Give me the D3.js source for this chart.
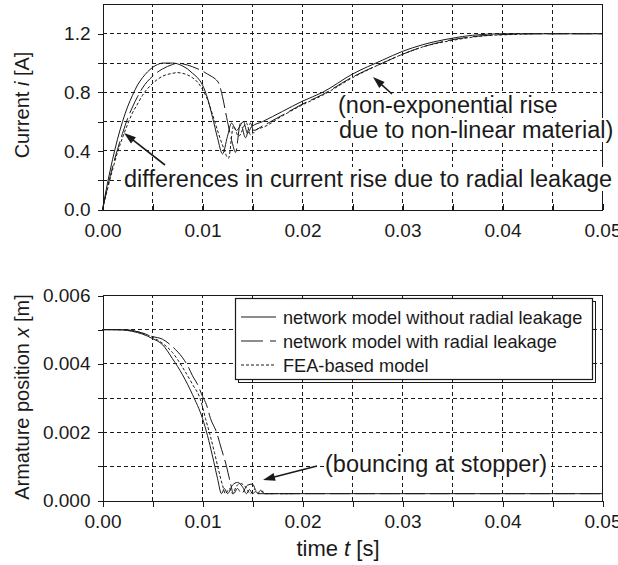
<!DOCTYPE html>
<html><head><meta charset="utf-8">
<script src="https://cdn.jsdelivr.net/npm/d3@7"></script>
<style>
body{margin:0;background:#fff}
svg{display:block}
text{font-family:"Liberation Sans",Arial,sans-serif;fill:#1a1a1a}
</style>
</head><body>
<svg id="c" width="618" height="565"></svg>
<script>
// ---------- data ----------
const timeMajorTicks = [0, 0.01, 0.02, 0.03, 0.04, 0.05];
const timeTickLabels = ["0.00", "0.01", "0.02", "0.03", "0.04", "0.05"];
const timeGrid = [0.005, 0.01, 0.015, 0.02, 0.025, 0.03, 0.035, 0.04, 0.045];
const currentTicks = [0, 0.2, 0.4, 0.6, 0.8, 1.0, 1.2];
const currentTickLabels = ["0.0", "", "0.4", "", "0.8", "", "1.2"];
const positionTicks = [0, 0.001, 0.002, 0.003, 0.004, 0.005, 0.006];
const positionTickLabels = ["0.000", "", "0.002", "", "0.004", "", "0.006"];
const seriesNames = ["network model without radial leakage", "network model with radial leakage", "FEA-based model"];

// current, network model without radial leakage
const tCurNoLeak = [0,0.0005,0.001,0.0015,0.002,0.0025,0.003,0.0035,0.004,0.0045,0.005,0.0055,0.006,0.0065,0.007,0.0075,0.008,0.0085,0.009,0.0095,0.01,0.0105,0.011,0.0115,0.012,0.0125,0.0129,0.0134,0.0141,0.0145,0.0149,0.016,0.018,0.02,0.022,0.025,0.028,0.03,0.032,0.035,0.037,0.04,0.045,0.05];
const iCurNoLeak = [0,0.18,0.34,0.48,0.6,0.7,0.78,0.85,0.9,0.94,0.97,0.99,1.0,1.0,1.0,0.995,0.98,0.96,0.93,0.9,0.85,0.76,0.63,0.49,0.38,0.5,0.59,0.54,0.6,0.52,0.565,0.6,0.67,0.74,0.8,0.925,1.02,1.08,1.125,1.17,1.19,1.2,1.2,1.2];
// current, network model with radial leakage
const tCurLeak = [0,0.0005,0.001,0.0015,0.002,0.0025,0.003,0.0035,0.004,0.005,0.006,0.007,0.0075,0.008,0.009,0.01,0.0105,0.011,0.0113,0.0117,0.012,0.0125,0.013,0.0133,0.0138,0.0143,0.0148,0.0151,0.016,0.018,0.02,0.022,0.025,0.028,0.03,0.032,0.035,0.037,0.04,0.043,0.05];
const iCurLeak = [0,0.15,0.29,0.41,0.52,0.62,0.7,0.77,0.83,0.91,0.96,0.99,1.0,0.995,0.975,0.945,0.925,0.905,0.89,0.85,0.77,0.6,0.45,0.39,0.59,0.49,0.59,0.54,0.57,0.645,0.72,0.785,0.905,1.0,1.06,1.11,1.16,1.18,1.195,1.2,1.2];
// current, FEA-based model
const tCurFEA = [0,0.0005,0.001,0.0015,0.002,0.0025,0.003,0.0035,0.004,0.005,0.006,0.007,0.0075,0.008,0.009,0.0095,0.01,0.0105,0.011,0.0115,0.012,0.0126,0.0131,0.0136,0.0144,0.0148,0.0155,0.016,0.018,0.02,0.022,0.025,0.028,0.03,0.032,0.035,0.038,0.041,0.043];
const iCurFEA = [0,0.14,0.27,0.39,0.49,0.58,0.66,0.72,0.78,0.86,0.91,0.93,0.935,0.93,0.9,0.87,0.82,0.75,0.65,0.54,0.44,0.35,0.57,0.5,0.59,0.51,0.55,0.56,0.64,0.715,0.78,0.9,1.0,1.06,1.11,1.155,1.185,1.195,1.2];

// armature position, network model without radial leakage
const tPosNoLeak = [0,0.001,0.002,0.003,0.004,0.005,0.006,0.007,0.008,0.009,0.01,0.0105,0.011,0.0115,0.0119,0.0122,0.0125,0.013,0.0135,0.014,0.0144,0.0147,0.015,0.0153,0.0156,0.02,0.05];
const xPosNoLeak = [0.005,0.005,0.00499,0.00495,0.00487,0.00474,0.00456,0.00415,0.00368,0.0031,0.0024,0.0019,0.0013,0.00065,0.0002,0.00035,0.0002,0.00045,0.00053,0.0004,0.0002,0.00032,0.0002,0.00026,0.0002,0.0002,0.0002];
// armature position, network model with radial leakage
const tPosLeak = [0,0.002,0.004,0.005,0.006,0.007,0.008,0.0086,0.009,0.0095,0.01,0.0104,0.0108,0.0114,0.0119,0.0124,0.0128,0.0131,0.0135,0.0139,0.0145,0.015,0.0155,0.0158,0.0162,0.05];
const xPosLeak = [0.005,0.005,0.0049,0.0048,0.00472,0.0045,0.00418,0.0039,0.00365,0.0034,0.00305,0.0028,0.0024,0.002,0.0015,0.001,0.0005,0.0002,0.00035,0.0002,0.00045,0.00048,0.0002,0.0003,0.0002,0.0002];
// armature position, FEA-based model
const tPosFEA = [0,0.002,0.003,0.004,0.005,0.006,0.007,0.008,0.009,0.0098,0.0103,0.0108,0.0112,0.0116,0.012,0.0123,0.0127,0.013,0.0134,0.0138,0.0143,0.0148,0.0152,0.0156,0.016,0.0163,0.019];
const xPosFEA = [0.005,0.005,0.00497,0.0049,0.00478,0.0046,0.00433,0.0039,0.0034,0.00295,0.0024,0.00187,0.0014,0.0009,0.00045,0.0002,0.00035,0.0002,0.00042,0.0005,0.0004,0.0002,0.00033,0.0002,0.00027,0.0002,0.0002];

// ---------- drawing ----------
const svg = d3.select("#c");
const INK = "#1a1a1a";
const dashStyles = [null, "20,5", "3,2"];
const zip = (a, b) => a.map((v, k) => [v, b[k]]);

function arrow(x1, y1, x2, y2) {
  const a = Math.atan2(y2 - y1, x2 - x1), L = 12, W = 4;
  const ux = Math.cos(a), uy = Math.sin(a), px = -uy, py = ux;
  svg.append("line").attr("x1", x1).attr("y1", y1)
    .attr("x2", x2 - ux * L * 0.8).attr("y2", y2 - uy * L * 0.8)
    .attr("stroke", INK).attr("stroke-width", 1.6);
  svg.append("path").attr("d",
    `M${x2},${y2}L${x2 - ux*L + px*W},${y2 - uy*L + py*W}L${x2 - ux*L - px*W},${y2 - uy*L - py*W}Z`)
    .attr("fill", INK);
}
function note(x, y, str, size) {
  const g = svg.append("g");
  const r = g.append("rect").attr("fill", "#fff");
  const t = g.append("text").attr("x", x).attr("y", y).attr("font-size", size).text(str);
  const b = t.node().getBBox();
  r.attr("x", b.x - 1).attr("y", b.y + 1).attr("width", b.width + 2).attr("height", b.height - 2);
}

function panel(cfg) {
  const {x, y, yTicks, yLabels, series, xTickOutward, xLabelPad} = cfg;
  const [x0, x1] = x.range(), [y0, y1] = y.range();
  const g = svg.append("g");
  // grid
  const grid = g.append("g").attr("stroke", INK).attr("stroke-width", 1)
    .attr("stroke-dasharray", "4,3").attr("shape-rendering", "crispEdges");
  timeGrid.forEach(v => grid.append("line").attr("x1", x(v)).attr("x2", x(v)).attr("y1", y0).attr("y2", y1));
  yTicks.slice(1).forEach(v => grid.append("line").attr("x1", x0).attr("x2", x1).attr("y1", y(v)).attr("y2", y(v)));
  // curves
  const line = d3.line().x(d => x(d[0])).y(d => y(d[1])).curve(d3.curveMonotoneX);
  series.forEach((s, k) => g.append("path").datum(s).attr("d", line)
    .attr("fill", "none").attr("stroke", INK).attr("stroke-width", 1)
    .attr("stroke-dasharray", dashStyles[k]));
  // frame
  g.append("path").attr("d", `M${x0},${y1}H${x1}V${y0}`).attr("fill", "none")
    .attr("stroke", INK).attr("stroke-width", 1).attr("shape-rendering", "crispEdges");
  // x axis
  const labelOf = v => { const k = timeMajorTicks.findIndex(m => Math.abs(m - v) < 1e-9); return k >= 0 ? timeTickLabels[k] : ""; };
  const xa = d3.axisBottom(x).tickValues(d3.range(0, 11).map(k => k * 0.005))
    .tickFormat(labelOf).tickSizeOuter(0)
    .tickSizeInner(xTickOutward ? 6 : -6).tickPadding(xLabelPad);
  const gx = g.append("g").attr("transform", `translate(0,${y0})`).call(xa);
  gx.selectAll("text").attr("font-size", 19).attr("fill", INK).attr("font-family", "Liberation Sans, Arial, sans-serif");
  gx.selectAll("line,path").attr("stroke", INK).attr("shape-rendering", "crispEdges");
  // y axis
  const ya = d3.axisLeft(y).tickValues(yTicks).tickFormat((v, k) => yLabels[k])
    .tickSizeOuter(0).tickSizeInner(5).tickPadding(7);
  const gy = g.append("g").attr("transform", `translate(${x0},0)`).call(ya);
  gy.selectAll("text").attr("font-size", 19).attr("fill", INK).attr("font-family", "Liberation Sans, Arial, sans-serif");
  gy.selectAll("line,path").attr("stroke", INK).attr("shape-rendering", "crispEdges");
  return g;
}

// top panel: current
const xTop = d3.scaleLinear().domain([0, 0.05]).range([102.5, 602.5]);
const yTop = d3.scaleLinear().domain([0, 1.4]).range([209.5, 4.5]);
panel({x: xTop, y: yTop, yTicks: currentTicks, yLabels: currentTickLabels,
  series: [zip(tCurNoLeak, iCurNoLeak), zip(tCurLeak, iCurLeak), zip(tCurFEA, iCurFEA)],
  xTickOutward: false, xLabelPad: 14});

// bottom panel: armature position
const xBot = d3.scaleLinear().domain([0, 0.05]).range([102.5, 602.5]);
const yBot = d3.scaleLinear().domain([0, 0.006]).range([500.5, 295.5]);
panel({x: xBot, y: yBot, yTicks: positionTicks, yLabels: positionTickLabels,
  series: [zip(tPosNoLeak, xPosNoLeak), zip(tPosLeak, xPosLeak), zip(tPosFEA, xPosFEA)],
  xTickOutward: true, xLabelPad: 8});

// axis titles
const t1 = svg.append("text").attr("transform", "translate(29,105) rotate(-90)")
  .attr("text-anchor", "middle").attr("font-size", 20);
t1.append("tspan").text("Current ");
t1.append("tspan").attr("font-style", "italic").text("i");
t1.append("tspan").text(" [A]");
const t2 = svg.append("text").attr("transform", "translate(29,397) rotate(-90)")
  .attr("text-anchor", "middle").attr("font-size", 20);
t2.append("tspan").text("Armature position ");
t2.append("tspan").attr("font-style", "italic").text("x");
t2.append("tspan").text(" [m]");
const t3 = svg.append("text").attr("x", 338).attr("y", 556)
  .attr("text-anchor", "middle").attr("font-size", 22);
t3.append("tspan").text("time ");
t3.append("tspan").attr("font-style", "italic").text("t");
t3.append("tspan").text(" [s]");

// annotations
note(338, 113, "(non-exponential rise", 23.5);
note(339, 138, "due to non-linear material)", 23.5);
note(124, 187, "differences in current rise due to radial leakage", 23.5);
note(325, 472, "(bouncing at stopper)", 23.5);
arrow(392, 94, 373, 77);
arrow(165, 165, 124, 133);
arrow(317, 466, 263, 480);

// legend
const lg = svg.append("g");
lg.append("rect").attr("x", 238.5).attr("y", 301.5).attr("width", 357).attr("height", 81)
  .attr("fill", "none").attr("stroke", INK).attr("stroke-width", 1);
lg.append("rect").attr("x", 235.5).attr("y", 298.5).attr("width", 357).attr("height", 81)
  .attr("fill", "#fff").attr("stroke", INK).attr("stroke-width", 1.2);
seriesNames.forEach((name, k) => {
  const yy = 317 + k * 24;
  lg.append("line").attr("x1", 241).attr("x2", 276).attr("y1", yy).attr("y2", yy)
    .attr("stroke", INK).attr("stroke-width", 1).attr("stroke-dasharray", k === 1 ? "22,7,6,7" : dashStyles[k]);
  lg.append("text").attr("x", 283).attr("y", yy + 6.5).attr("font-size", 18.2).text(name);
});
</script>
</body></html>
